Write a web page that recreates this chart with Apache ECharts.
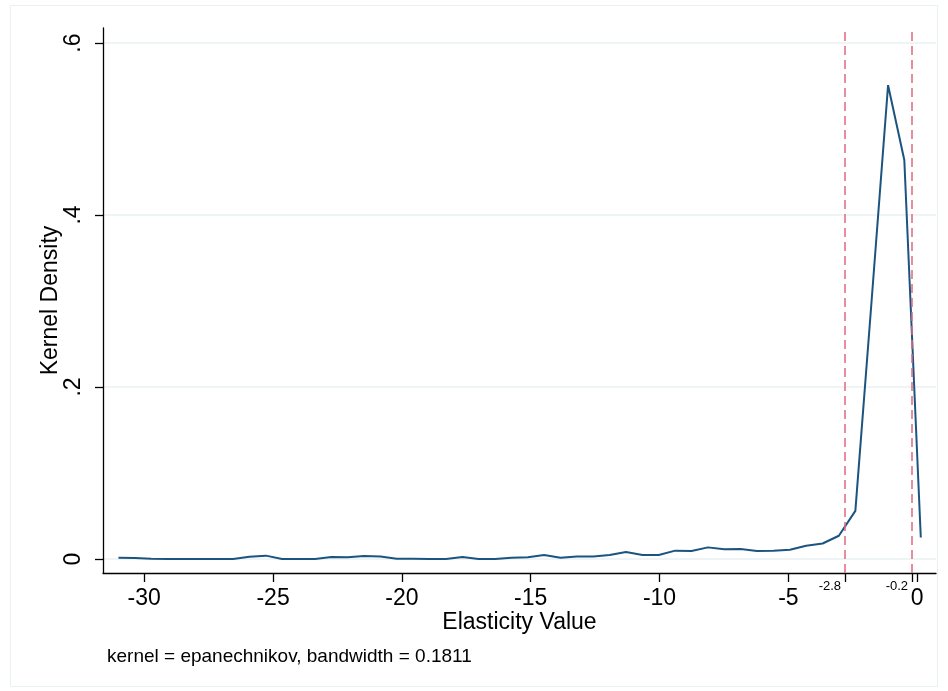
<!DOCTYPE html>
<html>
<head>
<meta charset="utf-8">
<script src="https://cdn.jsdelivr.net/npm/echarts@6/dist/echarts.min.js"></script>
<style>
  html, body { margin: 0; padding: 0; background: #ffffff; }
  #chart { width: 948px; height: 691px; }
</style>
</head>
<body>
<div id="chart"></div>
<script>
// Kernel density estimate of elasticity values, evaluated on a 50-point grid
const gridX = [
  -31.00, -30.36, -29.73, -29.09, -28.46, -27.82, -27.19, -26.55, -25.92, -25.28,
  -24.65, -24.01, -23.37, -22.74, -22.10, -21.47, -20.83, -20.20, -19.56, -18.93,
  -18.29, -17.65, -17.02, -16.38, -15.75, -15.11, -14.48, -13.84, -13.21, -12.57,
  -11.94, -11.30, -10.66, -10.03, -9.39, -8.76, -8.12, -7.49, -6.85, -6.22,
  -5.58, -4.94, -4.31, -3.67, -3.04, -2.40, -1.77, -1.13, -0.50, 0.14
];
const density = [
  0.0015, 0.0010, 0.0004, 0.0000, 0.0000, 0.0000, 0.0000, 0.0000, 0.0027, 0.0039,
  0.0000, 0.0000, 0.0000, 0.0023, 0.0020, 0.0035, 0.0030, 0.0004, 0.0004, 0.0000,
  0.0000, 0.0023, 0.0000, 0.0000, 0.0015, 0.0020, 0.0046, 0.0015, 0.0030, 0.0030,
  0.0046, 0.0081, 0.0046, 0.0046, 0.0097, 0.0093, 0.0135, 0.0112, 0.0116, 0.0093,
  0.0097, 0.0108, 0.0155, 0.0180, 0.0270, 0.0560, 0.3000, 0.5510, 0.4640, 0.0250
];

// Axis ticks and reference markers
const xTicks = [-30, -25, -20, -15, -10, -5, 0];
const yTicks = [0, 0.2, 0.4, 0.6];
const markers = [-2.8, -0.2];

const xTitle = 'Elasticity Value';
const yTitle = 'Kernel Density';
const note = 'kernel = epanechnikov, bandwidth = 0.1811';

const FONT = '"Liberation Sans", Arial, Helvetica, sans-serif';
const X_MIN = -31.6, X_MAX = 0.73;
const Y_MIN = -0.0163, Y_MAX = 0.6175;

const chart = echarts.init(document.getElementById('chart'), null, { renderer: 'canvas' });

const option = {
  animation: false,
  backgroundColor: '#ffffff',
  grid: { left: 103, right: 12, top: 28, bottom: 118, outerBoundsMode: 'none' },
  xAxis: [
    {
      type: 'value', min: X_MIN, max: X_MAX, position: 'bottom',
      name: xTitle, nameLocation: 'middle', nameGap: 38, nameMoveOverlap: false,
      nameTextStyle: { fontFamily: FONT, fontSize: 23, color: '#000' },
      axisLine: { show: true, onZero: false, lineStyle: { color: '#000', width: 1.3 } },
      axisTick: { show: true, length: 9, lineStyle: { color: '#000', width: 1.3 }, customValues: xTicks },
      axisLabel: { customValues: xTicks, fontFamily: FONT, fontSize: 23, color: '#000', margin: 14,
                   formatter: v => String(v) },
      splitLine: { show: false }
    },
    {
      type: 'value', min: X_MIN, max: X_MAX, position: 'bottom', offset: 0,
      axisLine: { show: false, onZero: false },
      axisTick: { show: true, length: 9, lineStyle: { color: '#000', width: 1.3 }, customValues: markers },
      axisLabel: { customValues: markers, fontFamily: FONT, fontSize: 13, color: '#000', margin: 7,
                   align: 'right', padding: [0, 4, 0, 0], formatter: v => String(v) },
      splitLine: { show: false }
    }
  ],
  yAxis: {
    type: 'value', min: Y_MIN, max: Y_MAX,
    name: yTitle, nameLocation: 'middle', nameGap: 41, nameMoveOverlap: false,
    nameTextStyle: { fontFamily: FONT, fontSize: 23, color: '#000' },
    axisLine: { show: true, onZero: false, lineStyle: { color: '#000', width: 1.3 } },
    axisTick: { show: true, length: 8, lineStyle: { color: '#000', width: 1.3 }, customValues: yTicks },
    axisLabel: { customValues: yTicks, rotate: 90, fontFamily: FONT, fontSize: 23, color: '#000', margin: 18,
                 formatter: v => (v === 0 ? '0' : String(+v.toFixed(1)).replace(/^0\./, '.')) },
    splitLine: { show: true, lineStyle: { color: '#eaf2f3', width: 1.5 } }
  },
  series: [
    {
      type: 'line',
      xAxisIndex: 0,
      data: gridX.map((x, i) => [x, density[i]]),
      symbol: 'none',
      lineStyle: { color: '#1c5480', width: 2 },
      markLine: {
        silent: true,
        symbol: 'none',
        label: { show: false },
        lineStyle: { color: '#e2677f', type: [9, 5], width: 1.5 },
        data: markers.map(m => ({ xAxis: m }))
      }
    }
  ],
  graphic: [
    {
      type: 'rect', silent: true, z: -1,
      shape: { x: 10.5, y: 5.5, width: 927, height: 681 },
      style: { fill: 'none', stroke: '#e9f0f2', lineWidth: 1 }
    },
    {
      type: 'text', left: 107, top: 647, silent: true,
      style: { text: note, font: '19px ' + FONT, fill: '#000' }
    }
  ]
};

chart.setOption(option);
</script>
</body>
</html>
